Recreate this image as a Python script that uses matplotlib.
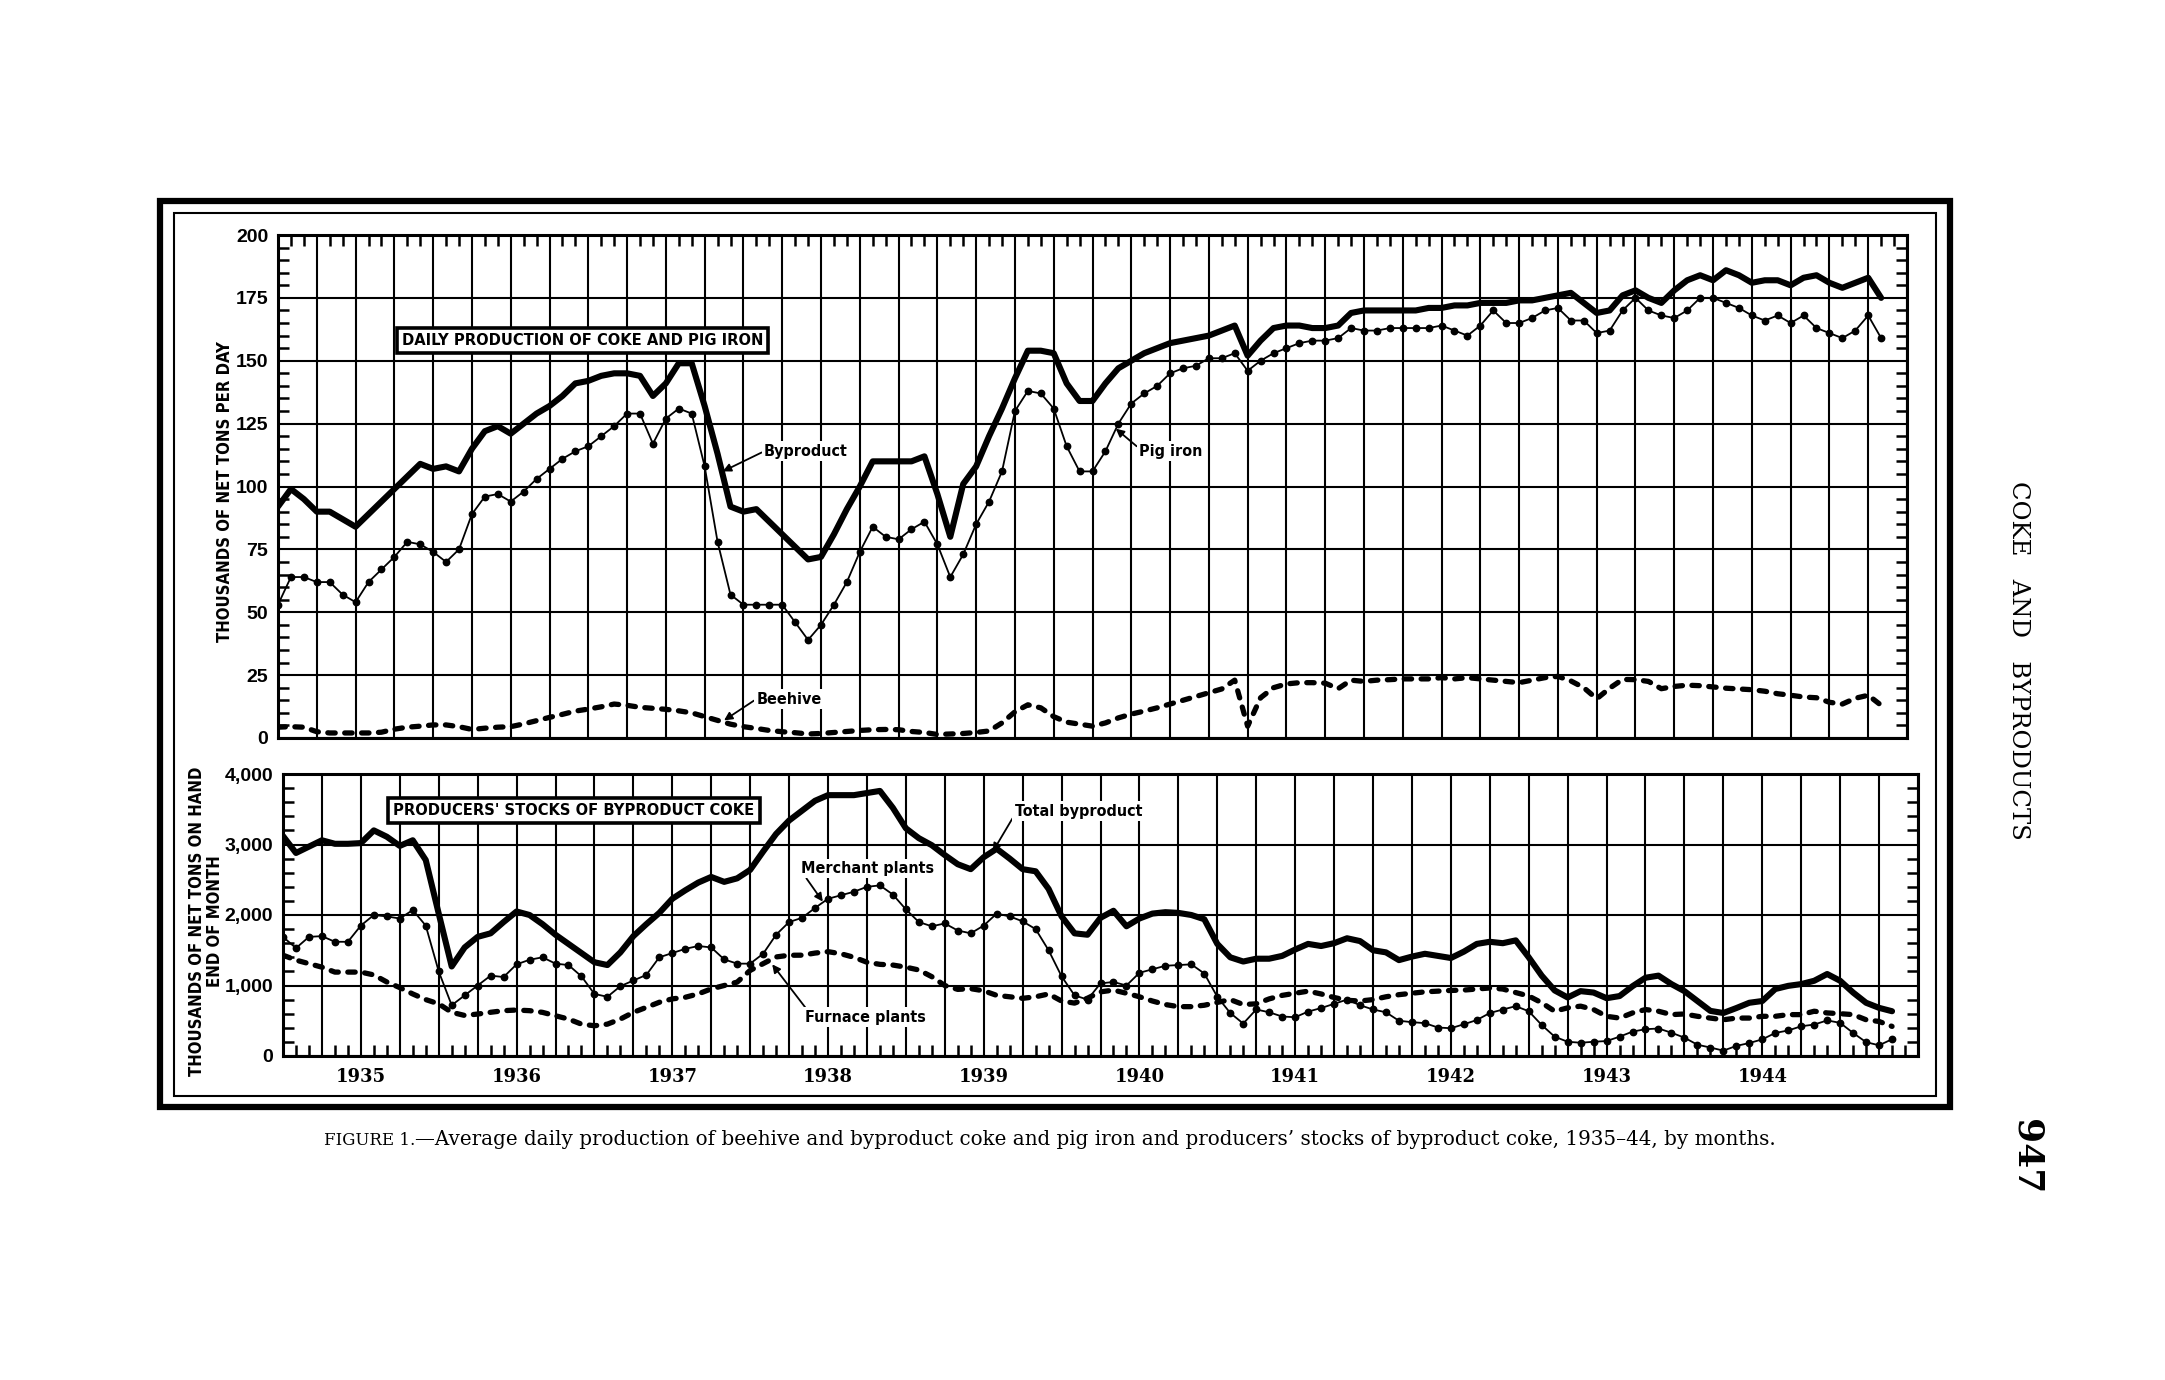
import numpy as np
import matplotlib.pyplot as plt
from matplotlib import font_manager
from matplotlib.patches import Rectangle
from matplotlib.ticker import MultipleLocator, FixedLocator, FixedFormatter

# Monthly values, January 1935 onward (thousands of net tons)
byproduct = [92, 99, 95, 90, 90, 87, 84, 89, 94, 99, 104, 109,
             107, 108, 106, 115, 122, 124, 121, 125, 129, 132, 136, 141,
             142, 144, 145, 145, 144, 136, 141, 149, 149, 132, 113, 92,
             90, 91, 86, 81, 76, 71, 72, 81, 91, 100, 110, 110,
             110, 110, 112, 97, 80, 101, 108, 120, 131, 143, 154, 154,
             153, 141, 134, 134, 141, 147, 150, 153, 155, 157, 158, 159,
             160, 162, 164, 152, 158, 163, 164, 164, 163, 163, 164, 169,
             170, 170, 170, 170, 170, 171, 171, 172, 172, 173, 173, 173,
             174, 174, 175, 176, 177, 173, 169, 170, 176, 178, 175, 173,
             178, 182, 184, 182, 186, 184, 181, 182, 182, 180, 183, 184,
             181, 179, 181, 183, 175]
pig_iron = [53, 64, 64, 62, 62, 57, 54, 62, 67, 72, 78, 77,
            74, 70, 75, 89, 96, 97, 94, 98, 103, 107, 111, 114,
            116, 120, 124, 129, 129, 117, 127, 131, 129, 108, 78, 57,
            53, 53, 53, 53, 46, 39, 45, 53, 62, 74, 84, 80,
            79, 83, 86, 77, 64, 73, 85, 94, 106, 130, 138, 137,
            131, 116, 106, 106, 114, 125, 133, 137, 140, 145, 147, 148,
            151, 151, 153, 146, 150, 153, 155, 157, 158, 158, 159, 163,
            162, 162, 163, 163, 163, 163, 164, 162, 160, 164, 170, 165,
            165, 167, 170, 171, 166, 166, 161, 162, 170, 175, 170, 168,
            167, 170, 175, 175, 173, 171, 168, 166, 168, 165, 168, 163,
            161, 159, 162, 168, 159]
beehive = [4.3, 4.5, 4.3, 2.5, 2.0, 2.0, 2.0, 2.0, 2.3, 3.5, 4.3, 4.7,
           5.2, 5.2, 4.5, 3.4, 3.9, 4.3, 4.5, 5.6, 6.9, 8.2, 9.4, 10.7,
           11.5, 12.4, 13.5, 13.0, 12.2, 11.8, 11.4, 10.8, 10.0, 8.5, 7.0, 5.5,
           4.5, 3.8, 3.0, 2.5, 2.1, 1.6, 1.8, 2.2, 2.6, 3.0, 3.3, 3.4,
           3.3, 2.6, 2.2, 1.4, 1.6, 1.8, 2.2, 2.8, 6.0, 10.4, 13.2, 12.0,
           8.5, 6.3, 5.5, 4.7, 6.0, 8.0, 9.5, 10.7, 12.0, 13.5, 15.0, 16.5,
           18.0, 19.5, 23.0, 4.7, 16.0, 20.0, 21.5, 22.0, 22.0, 21.8, 19.6, 23.0,
           22.5, 23.0, 23.2, 23.5, 23.5, 23.5, 24.0, 23.5, 24.0, 23.5, 23.0, 22.5,
           22.0, 23.0, 24.0, 24.5, 22.7, 20.0, 15.6, 19.8, 23.3, 23.2, 22.5, 19.6,
           20.5, 21.0, 20.8, 20.3, 19.8, 19.5, 19.2, 18.6, 17.6, 17.0, 16.3, 16.0,
           14.2, 13.5, 15.8, 17.0, 13.0]

total_stocks = [3120, 2880, 2970, 3060, 3010, 3010, 3020, 3200, 3110, 2980, 3060, 2780,
                2020, 1270, 1540, 1690, 1740, 1900, 2050, 2000, 1870, 1720, 1590, 1460,
                1330, 1290, 1470, 1700, 1870, 2030, 2230, 2350, 2460, 2540, 2470, 2520,
                2640, 2900, 3150, 3340, 3480, 3620, 3700, 3700, 3700, 3730, 3760, 3520,
                3230, 3090, 2990, 2850, 2720, 2650, 2820, 2940, 2800, 2650, 2620, 2370,
                1980, 1740, 1720, 1960, 2060, 1840, 1950, 2020, 2040, 2030, 2000, 1940,
                1590, 1400, 1340, 1380, 1380, 1420, 1510, 1590, 1560, 1600, 1670, 1630,
                1500, 1470, 1360, 1410, 1450, 1420, 1390, 1480, 1590, 1620, 1600, 1640,
                1400, 1140, 930, 830, 920, 900, 820, 850, 990, 1110, 1140, 1020,
                920, 780, 640, 610, 680, 755, 780, 950, 995, 1020, 1067, 1163,
                1067, 900, 755, 683, 635]
merchant = [1690, 1530, 1690, 1700, 1620, 1620, 1850, 2000, 1980, 1950, 2070, 1850,
            1200, 720, 860, 1000, 1140, 1120, 1300, 1365, 1400, 1310, 1290, 1130,
            880, 840, 990, 1071, 1150, 1400, 1460, 1520, 1560, 1540, 1370, 1310,
            1310, 1450, 1720, 1900, 1960, 2100, 2230, 2280, 2330, 2400, 2420, 2290,
            2080, 1900, 1840, 1880, 1780, 1740, 1850, 2020, 1980, 1910, 1800, 1500,
            1130, 860, 800, 1030, 1050, 1000, 1180, 1230, 1280, 1290, 1300, 1170,
            840, 610, 460, 660, 620, 560, 550, 630, 680, 740, 800, 720,
            660, 620, 500, 480, 466, 404, 394, 450, 510, 610, 659, 707,
            635, 440, 274, 202, 188, 202, 212, 274, 346, 380, 390, 330,
            260, 160, 120, 76, 143, 184, 236, 327, 362, 422, 446, 505,
            470, 327, 196, 152, 238]
furnace = [1430, 1360, 1310, 1260, 1190, 1190, 1190, 1150, 1050, 970, 880, 800,
           740, 620, 575, 595, 620, 643, 652, 643, 619, 571, 524, 452,
           429, 452, 524, 619, 690, 762, 810, 833, 881, 952, 1000, 1048,
           1214, 1310, 1405, 1429, 1430, 1460, 1480, 1450, 1400, 1330, 1300, 1290,
           1260, 1220, 1125, 1000, 945, 955, 925, 860, 840, 818, 840, 880,
           780, 750, 820, 910, 935, 890, 840, 780, 730, 700, 700, 720,
           760, 800, 730, 740, 810, 860, 890, 920, 880, 830, 790, 780,
           800, 840, 870, 890, 910, 920, 930, 935, 950, 965, 950, 900,
           851, 755, 635, 683, 707, 659, 563, 538, 611, 659, 635, 587,
           596, 563, 538, 514, 538, 538, 563, 563, 587, 587, 635, 611,
           600, 587, 514, 490, 420]

years = list(range(1935, 1945))
months = np.arange(len(byproduct))

W, H = 2165, 1380
fonts = font_manager.fontManager.ttflist
if any(f.name == 'Liberation Sans Narrow' for f in fonts):
    NARROW = dict(family='Liberation Sans Narrow')
    narrow_ok = True
else:
    NARROW = dict(family='DejaVu Sans', fontstretch='condensed')
    narrow_ok = any(f.name == 'DejaVu Sans' and f.stretch == 'condensed' for f in fonts)
k = 1.0 if narrow_ok else 0.84   # shrink when no condensed face exists
SANS = 'Liberation Sans'
SERIF = 'DejaVu Serif'

fig = plt.figure(figsize=(W / 100, H / 100), dpi=100)
fig.patch.set_facecolor('white')

# page frame: heavy outer rule and thin inner rule
fig.add_artist(Rectangle((160 / W, 1 - 1107 / H), 1790 / W, 906 / H,
                         transform=fig.transFigure, fill=False, lw=4.5, ec='black'))
fig.add_artist(Rectangle((174 / W, 1 - 1096 / H), 1762 / W, 883 / H,
                         transform=fig.transFigure, fill=False, lw=1.5, ec='black'))

ax1 = fig.add_axes([278 / W, 1 - 738 / H, 1629 / W, 503 / H])
ax2 = fig.add_axes([283 / W, 1 - 1056 / H, 1635 / W, 282 / H])

heavy = dict(color='black', lw=4.4, solid_joinstyle='round', solid_capstyle='round')
dotted = dict(color='black', lw=1.3, marker='o', ms=4.6)
dashed = dict(color='black', lw=3.8, linestyle=(0, (1.4, 1.8)), dash_capstyle='round')

ax1.plot(months, byproduct, **heavy)
ax1.plot(months, pig_iron, **dotted)
ax1.plot(months, beehive, **dashed)

ax2.plot(months, total_stocks, **heavy)
ax2.plot(months, merchant, **dotted)
ax2.plot(months, furnace, **dashed)

for ax in (ax1, ax2):
    ax.set_xlim(0, 126)
    ax.set_axisbelow(True)
    ax.xaxis.set_minor_locator(MultipleLocator(1))
    ax.grid(True, which='major', color='black', lw=1.5)
    ax.tick_params(which='major', length=0, pad=7)
    ax.tick_params(which='minor', direction='in', length=8, width=1.8)
    for s in ax.spines.values():
        s.set_linewidth(2.2)

ax1.xaxis.set_major_locator(MultipleLocator(3))
ax1.set_ylim(0, 200)
ax1.yaxis.set_major_locator(MultipleLocator(25))
ax1.yaxis.set_minor_locator(MultipleLocator(5))
ax1.tick_params(axis='x', which='minor', top=True, bottom=False)
ax1.tick_params(axis='y', which='minor', left=True, right=True)
ax1.tick_params(axis='x', labelbottom=False)

ax2.set_ylim(0, 4000)
ax2.yaxis.set_major_locator(MultipleLocator(1000))
ax2.yaxis.set_minor_locator(MultipleLocator(200))
ax2.yaxis.set_major_formatter(lambda v, p: f'{int(v):,}')
ax2.tick_params(axis='x', which='minor', top=False, bottom=True)
ax2.tick_params(axis='y', which='minor', left=True, right=True)

# year names sit under the mid-year gridline
quarter = list(range(0, 127, 3))
year_at = {12 * i + 6: str(y) for i, y in enumerate(years)}
ax2.xaxis.set_major_locator(FixedLocator(quarter))
ax2.xaxis.set_major_formatter(FixedFormatter([year_at.get(m, '') for m in quarter]))
ax2.tick_params(axis='x', which='major', pad=9)

for lab in ax1.get_yticklabels() + ax2.get_yticklabels():
    lab.set_fontfamily(SANS)
    lab.set_fontweight('bold')
    lab.set_fontsize(14)
for lab in ax2.get_xticklabels():
    lab.set_fontfamily(SERIF)
    lab.set_fontweight('bold')
    lab.set_fontsize(13)

box = dict(boxstyle='square,pad=0.3', fc='white', ec='black', lw=2.6)
ax1.text(0.187, 0.79, 'DAILY PRODUCTION OF COKE AND PIG IRON', transform=ax1.transAxes,
         ha='center', va='center', fontsize=11.8 * k, fontweight='bold', bbox=box, **NARROW)
ax2.text(0.178, 0.87, "PRODUCERS' STOCKS OF BYPRODUCT COKE", transform=ax2.transAxes,
         ha='center', va='center', fontsize=11.8 * k, fontweight='bold', bbox=box, **NARROW)

# series labels sit on a white patch that breaks the grid behind them
arrow = dict(arrowstyle='-|>', color='black', lw=1.3, mutation_scale=12,
             shrinkA=0, shrinkB=0)
note = dict(fontsize=11.5 * k, fontweight='bold', ha='left', va='center',
            bbox=dict(boxstyle='square,pad=0.15', fc='white', ec='none'), **NARROW)
ax1.annotate('Byproduct', xy=(34.4, 106), xytext=(37.6, 114),
             arrowprops=dict(arrow, relpos=(0, 0.5)), **note)
ax1.annotate('Pig iron', xy=(64.8, 123), xytext=(66.6, 114),
             arrowprops=dict(arrow, relpos=(0, 0.7)), **note)
ax1.annotate('Beehive', xy=(34.5, 7), xytext=(37.0, 15.5),
             arrowprops=dict(arrow, relpos=(0, 0.5)), **note)
ax2.annotate('Total byproduct', xy=(54.7, 2900), xytext=(56.4, 3470),
             arrowprops=dict(arrow, relpos=(0, 0.3)), **note)
ax2.annotate('Merchant plants', xy=(41.6, 2190), xytext=(39.9, 2660),
             arrowprops=dict(arrow, relpos=(0.03, 0.0)), **note)
ax2.annotate('Furnace plants', xy=(37.7, 1300), xytext=(40.2, 550),
             arrowprops=dict(arrow, relpos=(0.02, 1.0)), **note)

fig.text(225 / W, 1 - 492 / H, 'THOUSANDS OF NET TONS PER DAY', rotation=90,
         ha='center', va='center', fontsize=12 * k, fontweight='bold', **NARROW)
fig.text(206 / W, 1 - 921 / H, 'THOUSANDS OF NET TONS ON HAND\nEND OF MONTH', rotation=90,
         ha='center', va='center', fontsize=12 * k, fontweight='bold',
         multialignment='center', linespacing=1.05, **NARROW)

# caption under the frame
c1 = fig.text(324 / W, 1 - 1145 / H, 'FIGURE 1.', fontsize=12, family=SERIF, va='baseline')
fig.canvas.draw()
x_end = c1.get_window_extent().x1 / W
fig.text(x_end, 1 - 1145 / H,
         "\u2014Average daily production of beehive and byproduct coke and pig iron and "
         "producers\u2019 stocks of byproduct coke, 1935\u201344, by months.",
         fontsize=14.3, family=SERIF, va='baseline')

# running head in the margin
fig.text(2019 / W, 1 - 660 / H, 'COKE   AND   BYPRODUCTS', rotation=-90,
         ha='center', va='center', fontsize=17.5, family=SERIF)
fig.text(2027 / W, 1 - 1157 / H, '947', rotation=-90,
         ha='center', va='center', fontsize=26, fontweight='bold', family=SERIF)

fig.savefig('out.png', dpi=100)
